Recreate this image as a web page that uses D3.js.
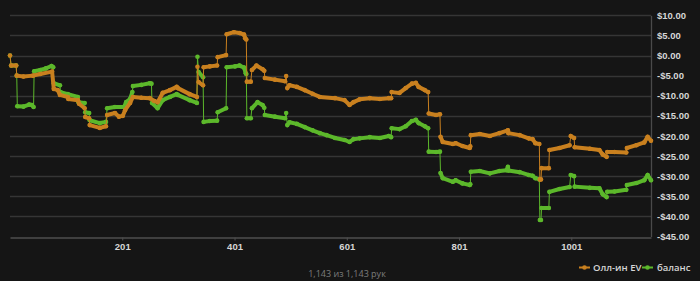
<!DOCTYPE html>
<html>
<head>
<meta charset="utf-8">
<script src="https://cdn.jsdelivr.net/npm/d3@7"></script>
<style>
  html, body { margin: 0; padding: 0; background: #151515; }
  svg { display: block; font-family: "Open Sans", "Noto Sans", sans-serif; }
</style>
</head>
<body>
<div id="chart"></div>
<script>
// all-in EV (hand number, dollars)
let evHands = [1, 3, 12, 13, 25, 42, 55, 76, 79, 86, 90, 104, 105, 122, 124, 134, 135, 142, 143, 161,
  172, 174, 188, 195, 202, 206, 215, 220, 235, 250, 258, 264, 273, 286, 298, 300, 321, 334, 335, 337,
  345, 346, 357, 370, 371, 386, 387, 400, 410, 418, 420, 422, 423, 430, 432, 440, 451, 454, 455, 473,
  491, 493, 495, 499, 512, 526, 540, 553, 580, 597, 606, 613, 624, 642, 660, 676, 680, 681, 695, 706,
  717, 724, 729, 740, 746, 747, 760, 767, 768, 772, 790, 795, 807, 820, 821, 822, 838, 856, 873, 888,
  889, 909, 925, 932, 937, 944, 945, 947, 948, 961, 962, 980, 998, 1000, 1006, 1007, 1034, 1051, 1057, 1064,
  1065, 1078, 1099, 1100, 1117, 1131, 1137, 1143]
let evValues = [0.0, -2.5, -2.5, -5.0, -5.2, -5.0, -4.6, -4.0, -8.3, -8.6, -9.8, -10.3, -10.8, -11.1, -12.0, -13.1, -15.3, -15.6, -17.3, -18.0,
  -17.6, -14.8, -14.3, -15.2, -15.0, -13.6, -11.8, -10.3, -10.5, -10.6, -11.3, -11.6, -9.3, -8.6, -7.8, -8.1, -9.6, -10.3, -2.8, -6.6,
  -7.4, -2.9, -2.7, -2.5, -0.4, 0.1, 5.3, 5.8, 5.6, 5.2, 4.3, 4.0, -6.5, -6.5, -3.6, -2.5, -3.4, -3.8, -5.6, -6.0,
  -6.4, -5.1, -8.1, -7.4, -7.8, -8.6, -9.5, -10.3, -10.6, -11.1, -12.3, -11.6, -10.9, -10.6, -10.8, -10.6, -10.6, -9.1, -9.3, -8.1,
  -7.0, -6.8, -7.8, -8.6, -9.1, -14.4, -14.8, -14.6, -20.2, -21.5, -22.0, -21.8, -22.5, -23.0, -22.6, -19.8, -19.5, -20.0, -19.3, -18.6,
  -19.3, -19.8, -20.6, -20.8, -21.8, -22.0, -30.8, -30.8, -28.0, -28.0, -23.5, -23.0, -22.3, -20.0, -20.5, -22.8, -23.2, -23.5, -24.6, -25.2,
  -24.0, -24.0, -24.1, -23.0, -22.3, -21.6, -20.2, -21.2]

// balance
let balHands = [1, 3, 12, 13, 14, 25, 35, 40, 43, 44, 55, 65, 75, 78, 79, 90, 91, 104, 122, 123,
  134, 135, 142, 143, 161, 172, 174, 188, 204, 208, 215, 219, 220, 235, 250, 253, 254, 264, 273, 286,
  298, 300, 321, 334, 335, 337, 345, 346, 357, 370, 371, 386, 387, 402, 410, 418, 421, 422, 423, 430,
  432, 442, 451, 454, 455, 473, 491, 493, 495, 499, 512, 526, 540, 553, 565, 580, 597, 606, 613, 624,
  642, 660, 676, 680, 681, 695, 706, 717, 724, 729, 740, 746, 747, 760, 767, 768, 772, 790, 795, 807,
  820, 821, 822, 838, 856, 873, 886, 888, 889, 909, 925, 932, 937, 944, 945, 947, 948, 961, 962, 980,
  998, 1000, 1006, 1007, 1034, 1051, 1057, 1064, 1065, 1078, 1099, 1100, 1117, 1131, 1137, 1143]
let balValues = [0.0, -2.5, -2.5, -5.0, -12.6, -12.7, -12.2, -12.3, -12.8, -3.9, -3.6, -3.2, -2.6, -2.9, -6.9, -7.4, -9.1, -9.6, -10.3, -11.6,
  -11.8, -14.1, -14.3, -16.1, -16.8, -16.5, -13.1, -12.8, -12.8, -11.6, -10.8, -9.1, -7.6, -7.3, -6.9, -7.0, -11.8, -13.1, -11.1, -10.3,
  -9.6, -9.8, -11.1, -11.8, -0.3, -4.1, -5.4, -16.5, -16.3, -16.2, -14.1, -13.1, -2.9, -2.7, -2.5, -3.0, -4.4, -4.6, -15.6, -15.6,
  -13.1, -11.6, -12.3, -13.0, -14.8, -15.2, -15.6, -14.3, -17.3, -16.6, -17.0, -17.8, -18.6, -19.3, -19.8, -20.5, -21.0, -21.5, -20.8, -20.6,
  -20.3, -20.5, -20.0, -20.3, -18.1, -18.3, -17.6, -16.3, -16.0, -16.8, -17.6, -18.1, -23.9, -24.0, -23.9, -29.2, -30.5, -31.4, -31.0, -31.8,
  -32.2, -32.0, -28.9, -28.7, -29.3, -28.7, -28.5, -27.7, -28.6, -29.0, -29.7, -29.9, -30.5, -30.8, -40.9, -40.9, -37.9, -37.9, -33.9, -33.2,
  -32.7, -29.7, -30.0, -32.6, -32.9, -33.0, -34.5, -35.2, -33.9, -33.8, -33.4, -32.2, -31.7, -31.0, -29.7, -31.0]

let yTicks = [10, 5, 0, -5, -10, -15, -20, -25, -30, -35, -40, -45]
let xTicks = [201, 401, 601, 801, 1001]
let seriesNames = ['Олл-ин EV', 'баланс']
let footerText = '1,143 из 1,143 рук'

let width = 700
let height = 281
let plotLeft = 10
let plotRight = 651
let plotTop = 15.3
let plotBottom = 236.5

let svg = d3.select('#chart')
  .append('svg')
  .attr('width', width)
  .attr('height', height)

svg.append('rect')
  .attr('width', width)
  .attr('height', height)
  .attr('fill', '#151515')

let x = d3.scaleLinear().domain([1, 1143]).range([plotLeft, plotRight])
let y = d3.scaleLinear().domain([-45, 10]).range([plotBottom, plotTop])

function money(v) {
  return (v < 0 ? '-$' : '$') + Math.abs(v).toFixed(2)
}

// horizontal grid
svg.append('g')
  .selectAll('line')
  .data(yTicks.filter(function (d) { return d !== -45 }))
  .enter()
  .append('line')
  .attr('x1', plotLeft)
  .attr('x2', plotRight)
  .attr('y1', function (d) { return Math.round(y(d)) + 0.5 })
  .attr('y2', function (d) { return Math.round(y(d)) + 0.5 })
  .attr('stroke', '#353535')
  .attr('stroke-width', 1.3)

// right axis with dollar labels
let yAxis = svg.append('g')
  .attr('transform', 'translate(' + plotRight + ',0)')
  .call(d3.axisRight(y).tickValues(yTicks).tickSize(0).tickPadding(6).tickFormat(money))
yAxis.select('.domain').attr('stroke', '#4a4a4a').attr('stroke-width', 1.3)
yAxis.selectAll('text')
  .attr('fill', '#d6d6d6')
  .style('font-size', '9.5px')
  .style('font-weight', '600')

// bottom axis
let xAxis = svg.append('g')
  .attr('transform', 'translate(0,' + (Math.round(plotBottom) + 0.5) + ')')
  .call(d3.axisBottom(x).tickValues(xTicks).tickFormat(d3.format('d'))
    .tickSize(3).tickPadding(3).tickSizeOuter(0))
xAxis.select('.domain').attr('stroke', '#4e4e4e').attr('stroke-width', 1.5)
xAxis.selectAll('.tick line').attr('stroke', '#4e4e4e')
xAxis.selectAll('text')
  .attr('fill', '#d6d6d6')
  .style('font-size', '9.5px')
  .style('font-weight', '600')

function drawSeries(hands, values, color) {
  let pts = hands.map(function (h, i) { return [x(h), y(values[i])] })
  let g = svg.append('g')
  // thin connecting line, shows the jumps
  g.append('path')
    .attr('d', d3.line()(pts))
    .attr('fill', 'none')
    .attr('stroke', color)
    .attr('stroke-width', 1)
  // the hand-by-hand markers sit so close they read as a thick band,
  // except across a single-hand jump
  let segs = []
  for (let i = 1; i < pts.length; i++) {
    let jump = hands[i] - hands[i - 1] <= 2 && Math.abs(pts[i][1] - pts[i - 1][1]) > 4
    if (!jump) segs.push([pts[i - 1], pts[i]])
  }
  g.selectAll('.band')
    .data(segs)
    .enter()
    .append('path')
    .attr('class', 'band')
    .attr('d', function (d) { return d3.line()(d) })
    .attr('fill', 'none')
    .attr('stroke', color)
    .attr('stroke-width', 4)
    .attr('stroke-linecap', 'round')
  g.selectAll('circle')
    .data(pts)
    .enter()
    .append('circle')
    .attr('cx', function (d) { return d[0] })
    .attr('cy', function (d) { return d[1] })
    .attr('r', 2.3)
    .attr('fill', color)
}

let orange = '#c9801f'
let green = '#5cb82b'

drawSeries(balHands, balValues, green)
drawSeries(evHands, evValues, orange)

// footer
svg.append('text')
  .attr('x', 347)
  .attr('y', 277)
  .attr('text-anchor', 'middle')
  .attr('fill', '#7d7d7d')
  .style('font-size', '9px')
  .text(footerText)

// legend
let legend = [
  { name: seriesNames[0], color: orange, cx: 584.5, tx: 593 },
  { name: seriesNames[1], color: green, cx: 647.5, tx: 657 }
]
let lg = svg.append('g')
lg.selectAll('line')
  .data(legend)
  .enter()
  .append('line')
  .attr('x1', function (d) { return d.cx - 5.5 })
  .attr('x2', function (d) { return d.cx + 5.5 })
  .attr('y1', 267.5)
  .attr('y2', 267.5)
  .attr('stroke', function (d) { return d.color })
  .attr('stroke-width', 2)
lg.selectAll('circle')
  .data(legend)
  .enter()
  .append('circle')
  .attr('cx', function (d) { return d.cx })
  .attr('cy', 267.5)
  .attr('r', 2.3)
  .attr('fill', function (d) { return d.color })
lg.selectAll('text')
  .data(legend)
  .enter()
  .append('text')
  .attr('x', function (d) { return d.tx })
  .attr('y', 271)
  .attr('fill', '#d6d6d6')
  .style('font-size', '9.5px')
  .style('font-weight', '600')
  .text(function (d) { return d.name })
</script>
</body>
</html>
